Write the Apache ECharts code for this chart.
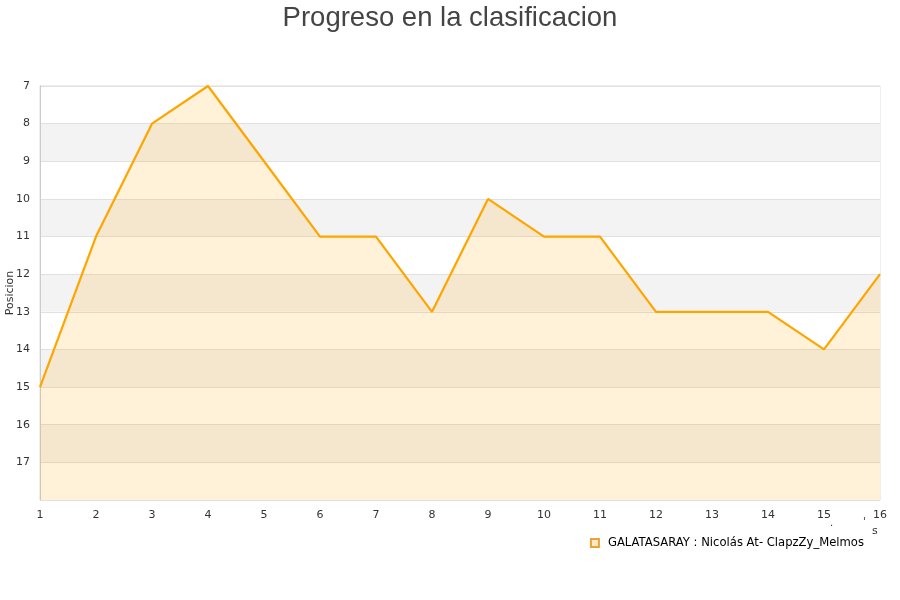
<!DOCTYPE html>
<html><head><meta charset="utf-8">
<script src="https://cdn.jsdelivr.net/npm/echarts@6/dist/echarts.min.js"></script>
<style>html,body{margin:0;padding:0;background:#fff}#c{width:900px;height:600px}</style>
</head><body><div id="c"></div>
<script>
const jornadas = [1,2,3,4,5,6,7,8,9,10,11,12,13,14,15,16];
const posiciones = [15,11,8,7,9,11,11,13,10,11,11,13,13,13,14,12];
const yTicks = [7,8,9,10,11,12,13,14,15,16,17];
const seriesName = 'GALATASARAY : Nicolás At- ClapzZy_Melmos';
const chart = echarts.init(document.getElementById('c'));
chart.setOption({
  animation:false,
  title:{text:'Progreso en la clasificacion',left:'center',top:-1,textStyle:{fontFamily:'Liberation Sans',fontSize:27.5,fontWeight:'normal',color:'#444'}},
  grid:{left:40,right:20,top:86,bottom:100,outerBoundsMode:'none',containLabel:false,show:true,borderColor:'#ddd',borderWidth:1,backgroundColor:'transparent'},
  legend:{data:[{name:seriesName,icon:'rect'}],right:31,top:532,itemWidth:8,itemHeight:8,itemGap:10,
    textStyle:{fontFamily:'DejaVu Sans',fontSize:11.6,color:'#000',padding:[0,0,0,4]}},
  xAxis:{type:'category',data:jornadas.map(String),boundaryGap:false,
    axisLine:{show:false},axisTick:{show:false},splitLine:{show:false},
    axisLabel:{fontFamily:'DejaVu Sans',fontSize:11,color:'#333',margin:10,interval:0}},
  yAxis:{type:'value',inverse:true,min:7,max:18,interval:1,name:'Posicion',nameLocation:'middle',nameGap:24,nameMoveOverlap:false,
    nameTextStyle:{fontFamily:'DejaVu Sans',fontSize:11,color:'#333'},
    axisLine:{show:true,lineStyle:{color:'#ccc'}},axisTick:{show:false},
    axisLabel:{fontFamily:'DejaVu Sans',fontSize:11,color:'#333',margin:10,
      formatter:v=>yTicks.includes(v)?String(v):''},
    splitLine:{show:true,lineStyle:{color:'#e0e0e0'}},
    splitArea:{show:true,areaStyle:{color:['#ffffff','#f3f3f3']}}},
  graphic:[
    {type:'text',left:872,top:526,style:{text:'s',font:'11px DejaVu Sans',fill:'#333'}},
    {type:'text',left:830,top:518,style:{text:'.',font:'10px DejaVu Sans',fill:'#333'}},
    {type:'text',left:863,top:517,style:{text:"'",font:'10px DejaVu Sans',fill:'#333'}}
  ],
  series:[{name:seriesName,type:'line',data:posiciones,symbol:'none',
    lineStyle:{color:'#ffa500',width:2.2},itemStyle:{color:'#ffe9c4',borderColor:'#e8a33a',borderWidth:1},
    areaStyle:{origin:'end',color:'rgba(255,165,0,0.21)'}}]
});
</script></body></html>
